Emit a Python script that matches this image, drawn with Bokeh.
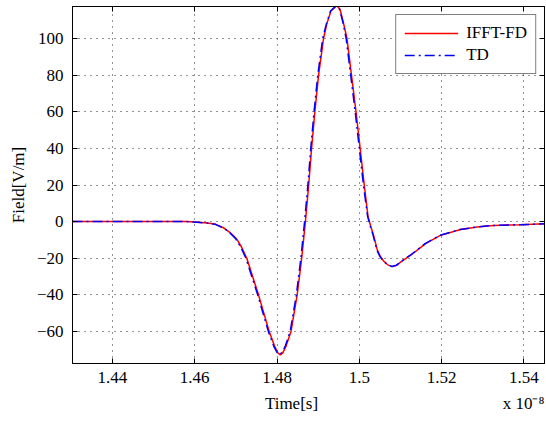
from bokeh.plotting import figure
from bokeh.models import (Range1d, FixedTicker, LinearAxis, Legend, LegendItem, Grid)
from bokeh.embed import file_html
from bokeh.resources import INLINE

# ---- data (time in units of 1e-8 s, field in V/m) ----
t_td = [1.4303, 1.4500, 1.4580, 1.4606, 1.4630, 1.4650, 1.4670, 1.4685, 1.4699, 1.4712,
        1.47245, 1.4753, 1.4779, 1.4792, 1.4800, 1.4806, 1.4812, 1.4820, 1.4832, 1.4847,
        1.4858, 1.4867, 1.4875, 1.4882, 1.4890, 1.4899, 1.4911, 1.4920, 1.4930, 1.4944,
        1.4952, 1.4960, 1.4968, 1.4979, 1.4990, 1.5000, 1.5010, 1.5020, 1.5026, 1.5033,
        1.5043, 1.5050, 1.5058, 1.5068, 1.5079, 1.5090, 1.5100, 1.5123, 1.5160, 1.5196,
        1.5245, 1.5285, 1.5325, 1.5390, 1.5450]
v_td = [0, 0, 0, -0.3, -0.8, -1.5, -3.5, -6, -9.2, -14,
        -20, -40, -60, -68, -71.5, -72.6, -71.5, -68, -60, -40,
        -20, 0, 20, 40, 60, 80, 100, 108, 115, 118,
        116, 109, 100, 80, 60, 40, 20, 3, -2, -7,
        -15.7, -19, -21.5, -23.5, -24.5, -23.8, -22, -18.5, -12, -7.5,
        -4.3, -3.0, -2.1, -1.7, -1.2]

t_fd = [1.4303, 1.4500, 1.4580, 1.4607, 1.4631, 1.4651, 1.4671, 1.4686, 1.4701, 1.4714,
        1.47265, 1.4755, 1.4781, 1.4794, 1.4802, 1.4808, 1.4814, 1.4822, 1.4834, 1.4849,
        1.4860, 1.4869, 1.4877, 1.4884, 1.4892, 1.4901, 1.4913, 1.4921, 1.4931, 1.4945,
        1.4953, 1.4961, 1.4970, 1.4981, 1.4992, 1.5002, 1.5012, 1.5021, 1.5027, 1.5034,
        1.5044, 1.5051, 1.5059, 1.5069, 1.5080, 1.5091, 1.5101, 1.5124, 1.5161, 1.5197,
        1.5246, 1.5286, 1.5326, 1.5391, 1.5450]
v_fd = [0, 0, 0, -0.3, -0.8, -1.5, -3.5, -6, -9.2, -14,
        -20, -40, -60, -68, -71.7, -72.8, -71.7, -68, -60, -40,
        -20, 0, 20, 40, 60, 80, 100, 108, 115, 118,
        116, 109, 100, 80, 60, 40, 20, 3, -2, -7,
        -15.7, -19, -21.5, -23.6, -24.6, -23.9, -22, -18.5, -12, -7.5,
        -4.3, -3.0, -2.1, -1.7, -1.2]

x_ticks = [1.44, 1.46, 1.48, 1.50, 1.52, 1.54]
x_tick_labels = ["1.44", "1.46", "1.48", "1.5", "1.52", "1.54"]
y_ticks = [-60, -40, -20, 0, 20, 40, 60, 80, 100]
x_title = "Time[s]"
x_exponent = "x 10\u207b\u2078"

x_range = (1.4303, 1.545)
y_range = (-77.5, 117.5)

FONT = "Liberation Serif"
FS = "17px"
W, H = 546, 421
B_LEFT, B_RIGHT, B_TOP, B_BOTTOM = 72, 2, 6, 58

p = figure(width=W, height=H, output_backend="svg", toolbar_location=None,
           x_range=Range1d(*x_range), y_range=Range1d(*y_range),
           min_border_left=B_LEFT, min_border_right=B_RIGHT,
           min_border_top=B_TOP, min_border_bottom=B_BOTTOM,
           x_axis_location=None, y_axis_location=None)
p.grid.visible = False
p.background_fill_color = "white"
p.border_fill_color = "white"
p.outline_line_color = "black"
p.outline_line_width = 1

def make_axis(kind, show_labels):
    ax = LinearAxis()
    ax.ticker = FixedTicker(ticks=x_ticks if kind == "x" else y_ticks)
    ax.minor_tick_line_color = None
    ax.major_tick_in = 5
    ax.major_tick_out = 0
    ax.major_tick_line_color = "black"
    ax.axis_line_color = "black"
    if show_labels:
        ax.major_label_text_font = FONT
        ax.major_label_text_font_size = FS
        ax.major_label_text_color = "black"
        ax.major_label_standoff = 9
    else:
        ax.major_label_text_font_size = "0px"
        ax.major_label_text_color = None
        ax.major_label_standoff = 0
    return ax

xb = make_axis("x", True)
xb.major_label_standoff = 8
xb.major_label_overrides = {t: s for t, s in zip(x_ticks, x_tick_labels)}
p.add_layout(xb, "below")

# second row under the tick labels: axis title and the exponent note
frame_w = W - B_LEFT - B_RIGHT
per_px = (x_range[1] - x_range[0]) / frame_w
title_pos = (x_range[0] + x_range[1]) / 2 - 17 * per_px
expo_pos = x_range[1] - 21 * per_px
xb2 = LinearAxis(ticker=FixedTicker(ticks=[title_pos, expo_pos]))
xb2.major_label_overrides = {title_pos: x_title, expo_pos: x_exponent}
xb2.axis_line_color = None
xb2.major_tick_line_color = None
xb2.minor_tick_line_color = None
xb2.major_tick_in = 0
xb2.major_tick_out = 0
xb2.major_label_standoff = 8
xb2.major_label_text_font = FONT
xb2.major_label_text_font_size = FS
xb2.major_label_text_color = "black"
p.add_layout(xb2, "below")

yl = make_axis("y", True)
yl.axis_label = "Field[V/m]"
yl.axis_label_text_font = FONT
yl.axis_label_text_font_size = FS
yl.axis_label_text_font_style = "normal"
yl.axis_label_text_color = "black"
yl.axis_label_standoff = 6
p.add_layout(yl, "left")
p.add_layout(make_axis("x", False), "above")
p.add_layout(make_axis("y", False), "right")

p.add_layout(Grid(dimension=0, ticker=FixedTicker(ticks=x_ticks), grid_line_color="black",
                  grid_line_dash="1 5", grid_line_alpha=0.85, grid_line_width=1))
p.add_layout(Grid(dimension=1, ticker=FixedTicker(ticks=y_ticks), grid_line_color="black",
                  grid_line_dash="1 5", grid_line_alpha=0.85, grid_line_width=1))

r_fd = p.line(t_fd, v_fd, line_color="#ff0000", line_width=1.5)
r_td = p.line(t_td, v_td, line_color="#0000ff", line_width=1.5, line_dash="10 4 2 4")

legend = Legend(items=[LegendItem(label="IFFT-FD", renderers=[r_fd]),
                       LegendItem(label="TD", renderers=[r_td])],
                location="top_right")
legend.label_text_font = FONT
legend.label_text_font_size = FS
legend.label_text_color = "black"
legend.glyph_width = 54
legend.glyph_height = 18
legend.label_height = 18
legend.label_standoff = 8
legend.spacing = 2
legend.padding = 8
legend.margin = 8
legend.border_line_color = "black"
legend.border_line_width = 1
legend.background_fill_color = "white"
legend.background_fill_alpha = 1
p.add_layout(legend, "center")

open("out.html", "w").write(file_html(p, INLINE))
